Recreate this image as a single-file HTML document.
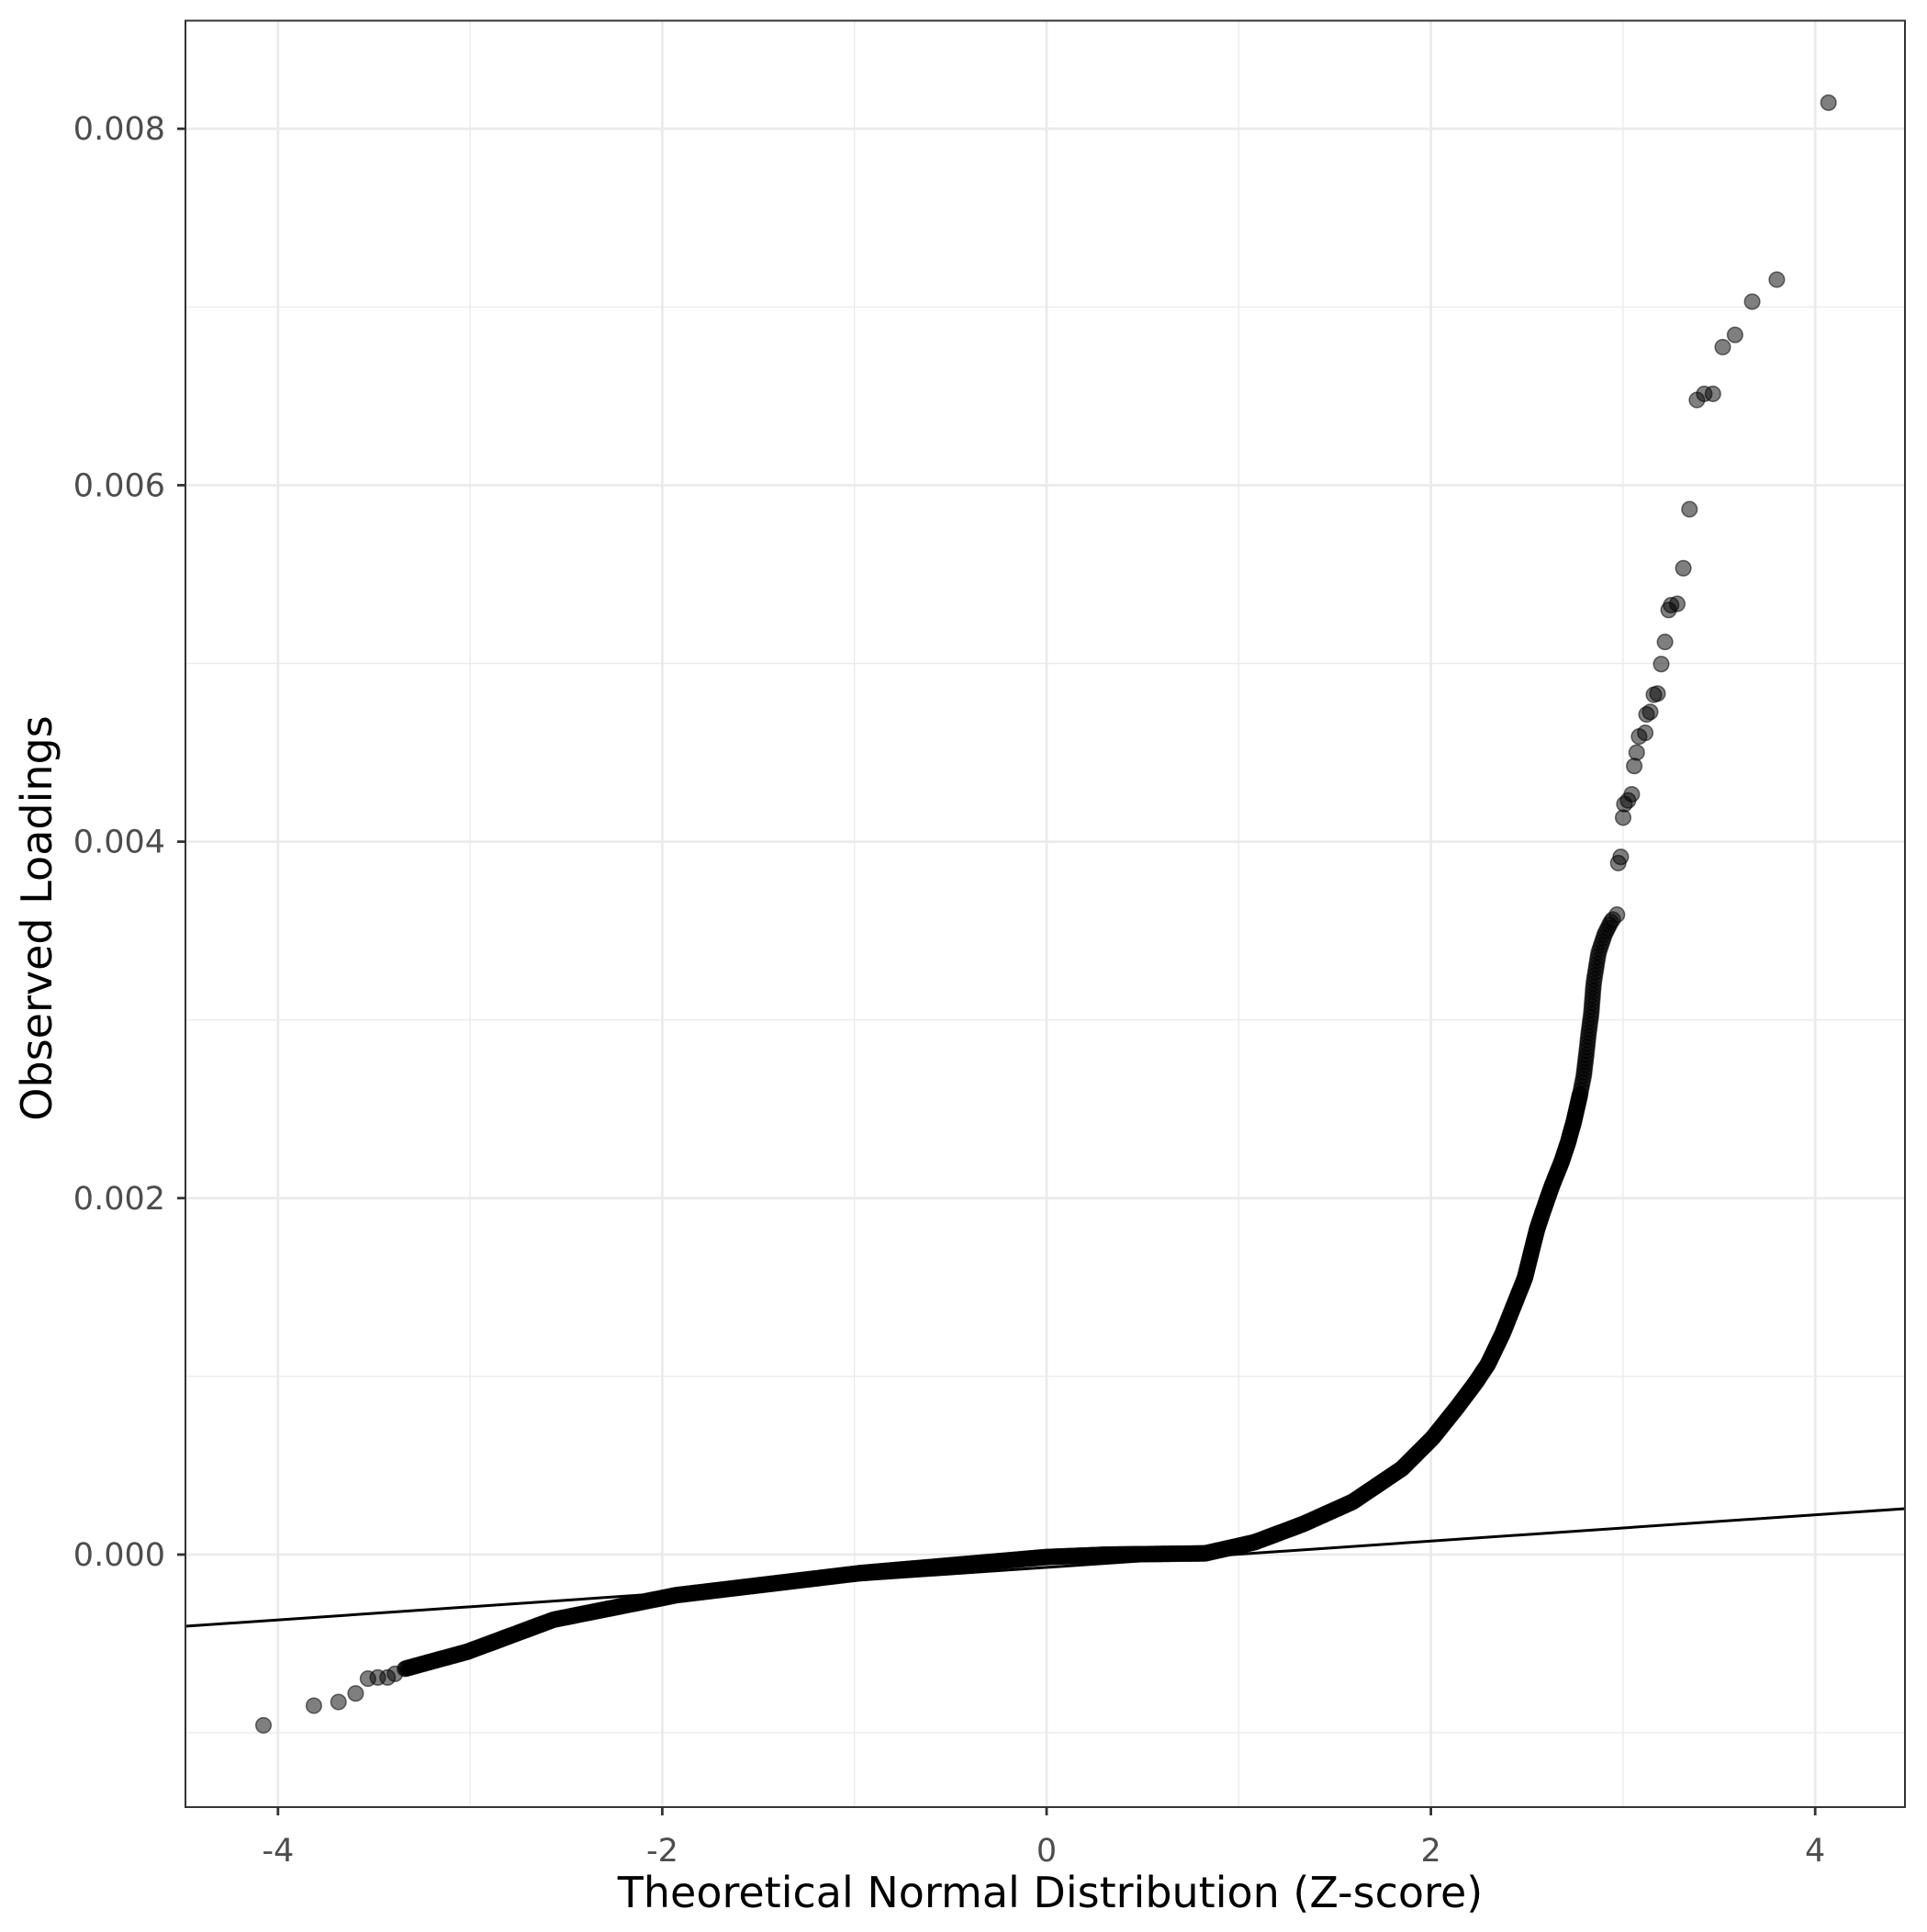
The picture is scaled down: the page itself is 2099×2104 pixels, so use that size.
<!DOCTYPE html>
<html><head><meta charset="utf-8"><style>
html,body{margin:0;padding:0;background:#fff}
svg text{font-family:"DejaVu Sans","Liberation Sans",sans-serif}
</style></head><body>
<svg id="s" width="2099" height="2099" viewBox="0 0 2099 2099" xmlns="http://www.w3.org/2000/svg">
<rect width="2099" height="2099" fill="#fff"/>
<g id="grid"></g>
<line x1="202" y1="1771" x2="2075" y2="1643" stroke="#000" stroke-width="3"/>
<g id="pts"></g>
<rect x="202" y="22.5" width="1873" height="1945.5" fill="none" stroke="#333" stroke-width="2"/>
<g id="ticks" fill="#4d4d4d" font-size="35"></g>
<text x="1144" y="2077" font-size="46" text-anchor="middle" fill="#000">Theoretical Normal Distribution (Z-score)</text>
<text transform="translate(56,1000) rotate(-90)" font-size="46" text-anchor="middle" fill="#000">Observed Loadings</text>
</svg>
<script>
const NS="http://www.w3.org/2000/svg";
const X=z=>1140+z*209.3, Y=v=>1693-v*194.1;
function el(p,t,a,txt){const e=document.createElementNS(NS,t);for(const k in a)e.setAttribute(k,a[k]);if(txt!==undefined)e.textContent=txt;document.getElementById(p).appendChild(e);return e;}
const L=202,R=2075,T=22.5,B=1968;
for(let v=-1;v<=7;v+=2) el('grid','line',{x1:L,x2:R,y1:Y(v),y2:Y(v),stroke:'#ebebeb','stroke-width':1.4});
for(let z=-3;z<=3;z+=2) el('grid','line',{x1:X(z),x2:X(z),y1:T,y2:B,stroke:'#ebebeb','stroke-width':1.4});
for(let v=0;v<=8;v+=2){el('grid','line',{x1:L,x2:R,y1:Y(v),y2:Y(v),stroke:'#ebebeb','stroke-width':2.8});
 el('ticks','line',{x1:L-9,x2:L,y1:Y(v),y2:Y(v),stroke:'#333','stroke-width':2.8});
 el('ticks','text',{x:180,y:Y(v)+12,'text-anchor':'end'},(v/1000).toFixed(3));}
for(let z=-4;z<=4;z+=2){el('grid','line',{x1:X(z),x2:X(z),y1:T,y2:B,stroke:'#ebebeb','stroke-width':2.8});
 el('ticks','line',{x1:X(z),x2:X(z),y1:B,y2:B+9,stroke:'#333','stroke-width':2.8});
 el('ticks','text',{x:X(z),y:2027,'text-anchor':'middle'},z<0?'-'+(-z):''+z);}
const P=(px,py)=>[X((px-851)/156.3),Y((1265-py)/145.1)];
function dot(p){el('pts','circle',{cx:p[0].toFixed(1),cy:p[1].toFixed(1),r:8.3,fill:'rgba(0,0,0,0.5)',stroke:'rgba(0,0,0,0.55)','stroke-width':1.5});}
const single=[[214,1404],[255,1388],[275,1385],[289,1378],[299,1366],[307,1365],[315,1365],[321,1362],
[1487,83],[1445,227],[1425,245],[1411,272],[1401,282],[1393,320],[1386,320],[1380,325],[1374,414],[1369,462],
[1364,491],[1359,492],[1357,496],[1354,522],[1351,540],[1348,564],[1345,565],[1342,579],[1339,581],[1338,596],
[1333,599],[1331,612],[1329,623],[1327,646],[1324,651],[1321,654],[1320,665],[1318,697],[1316,702],[1315,744]];
single.forEach(p=>dot(P(p[0],p[1])));
const poly=[[329,1358],[380,1344],[450,1318],[550,1298],[700,1280],[851,1267],[900,1265],[980,1264],[1020,1255],[1060,1240],[1100,1222],[1140,1195],[1165,1170],[1185,1145],[1200,1125],[1210,1110],[1222,1085],[1232,1060],[1240,1040],[1245,1020],[1250,1000],[1255,985],[1262,965],[1270,945],[1275,930],[1280,912],[1285,890],[1288,875],[1290,858],[1292,840],[1294,825],[1296,800],[1300,775],[1305,760],[1310,750],[1313,746]];
for(let i=0;i<poly.length-1;i++){const a=P(...poly[i]),b=P(...poly[i+1]);
 const d=Math.hypot(b[0]-a[0],b[1]-a[1]);const n=Math.max(1,Math.round(d/(i>25?4:1.5)));
 for(let k=0;k<n;k++){const t=k/n;dot([a[0]+(b[0]-a[0])*t,a[1]+(b[1]-a[1])*t]);}}
</script>
</body></html>
